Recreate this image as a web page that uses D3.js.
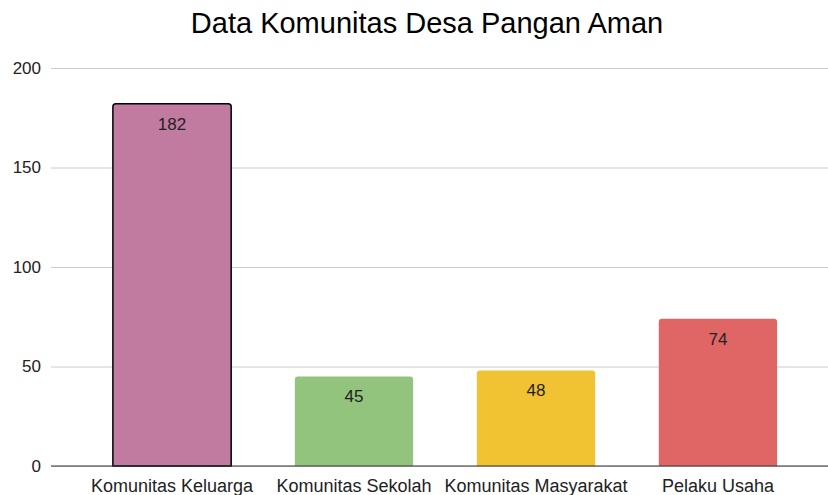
<!DOCTYPE html>
<html>
<head>
<meta charset="utf-8">
<script src="https://cdn.jsdelivr.net/npm/d3@7"></script>
<style>
  body { margin: 0; background: #fff; }
  text { font-family: "Liberation Sans", Arial, sans-serif; }
</style>
</head>
<body>
<svg width="828" height="495"></svg>
<script>
//Chart data
let categories = ["Komunitas Keluarga", "Komunitas Sekolah", "Komunitas Masyarakat", "Pelaku Usaha"];
let values = [182, 45, 48, 74];
let colors = ["#c27ba0", "#93c47d", "#f1c232", "#e06666"];
let yTicks = [0, 50, 100, 150, 200];
let title = "Data Komunitas Desa Pangan Aman";

let font = "'Liberation Sans', Arial, sans-serif";
let svg = d3.select("svg");

//Scales: zero line at 466, 200 at 68
let y = d3.scaleLinear().domain([0, 200]).range([466, 68]);
let x = d3.scaleBand().domain(categories)
    .range([58.3, 831.7])
    .paddingInner(0.35)
    .paddingOuter(0.3);

//Gridlines and y tick labels
let grid = svg.append("g")
    .attr("transform", "translate(51,0)")
    .call(d3.axisLeft(y).tickValues(yTicks).tickSize(-777).tickPadding(10));
grid.select(".domain").remove();
grid.selectAll(".tick line").attr("stroke", "#ccc");
grid.selectAll(".tick text").attr("font-size", 17).attr("fill", "#222").attr("font-family", font);

//Bars with rounded top corners
function barPath(x0, y0, w, h, r) {
  return "M" + x0 + "," + (y0 + h) +
         "V" + (y0 + r) + "Q" + x0 + "," + y0 + " " + (x0 + r) + "," + y0 +
         "H" + (x0 + w - r) + "Q" + (x0 + w) + "," + y0 + " " + (x0 + w) + "," + (y0 + r) +
         "V" + (y0 + h) + "Z";
}

svg.selectAll(".bar")
   .data(values)
   .enter().append("path")
   .attr("class", "bar")
   .attr("d", (d, i) => barPath(x(categories[i]), y(d), x.bandwidth(), y(0) - y(d), 3))
   .attr("fill", (d, i) => colors[i])
   .attr("stroke", (d, i) => i == 0 ? "#000" : "none")
   .attr("stroke-width", 1.5);

//Zero axis line
svg.append("line")
   .attr("x1", 51).attr("x2", 828)
   .attr("y1", y(0)).attr("y2", y(0))
   .attr("stroke", "#333").attr("stroke-width", 1);

//Value labels inside bar tops
svg.selectAll(".val")
   .data(values)
   .enter().append("text")
   .attr("class", "val")
   .attr("x", (d, i) => x(categories[i]) + x.bandwidth() / 2)
   .attr("y", d => y(d) + 26)
   .attr("text-anchor", "middle")
   .attr("font-size", 17)
   .attr("fill", "#222")
   .text(d => d);

//Category labels
let xa = svg.append("g")
    .attr("transform", "translate(0," + y(0) + ")")
    .call(d3.axisBottom(x).tickSize(0).tickPadding(13));
xa.select(".domain").remove();
xa.selectAll(".tick text").attr("font-size", 18).attr("fill", "#222").attr("font-family", font);

//Title
svg.append("text")
   .attr("x", 427).attr("y", 33)
   .attr("text-anchor", "middle")
   .attr("font-size", 29)
   .attr("fill", "#000")
   .text(title);
</script>
</body>
</html>
